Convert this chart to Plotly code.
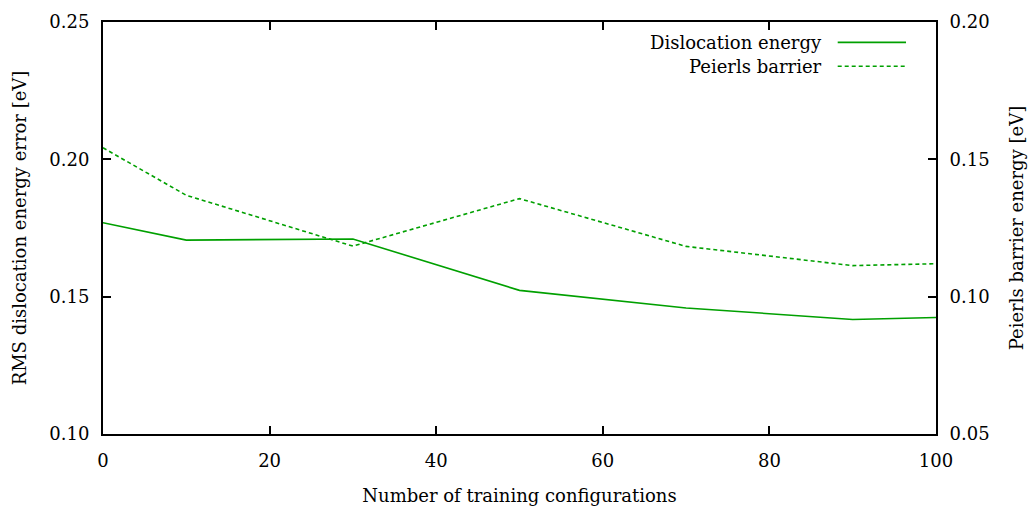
import plotly.graph_objects as go

configs = [0, 10, 30, 50, 70, 90, 100]
dislocation_energy = [0.1769, 0.1706, 0.1710, 0.1523, 0.1459, 0.1417, 0.1424]
peierls_barrier = [0.1542, 0.1369, 0.1184, 0.1357, 0.1183, 0.1113, 0.1120]

GREEN = "#00a000"
FONT = dict(family="DejaVu Serif", size=18, color="black")

fig = go.Figure()
fig.add_trace(go.Scatter(x=configs, y=dislocation_energy, mode="lines",
                         line=dict(color=GREEN, width=1.6), name="Dislocation energy",
                         showlegend=False))
fig.add_trace(go.Scatter(x=configs, y=peierls_barrier, mode="lines", yaxis="y2",
                         line=dict(color=GREEN, width=1.6, dash="4px,3px"), name="Peierls barrier",
                         showlegend=False))

# manual legend (text right of sample line like gnuplot)
legend_items = [("Dislocation energy", "solid", 0.9505), ("Peierls barrier", "4px,3px", 0.8925)]
for label, dash, yp in legend_items:
    fig.add_annotation(xref="paper", yref="paper", x=0.866, y=yp, text=label,
                       showarrow=False, xanchor="right", yanchor="middle", font=FONT)
    fig.add_shape(type="line", xref="paper", yref="paper", x0=0.882, x1=0.964, y0=yp, y1=yp,
                  line=dict(color=GREEN, width=1.6, dash=dash))

axis_common = dict(showline=True, linecolor="black", linewidth=2, ticks="inside", ticklen=8,
                   tickwidth=1.5, tickcolor="black", showgrid=False, zeroline=False,
                   tickfont=FONT, title_font=FONT, automargin=False)

fig.update_layout(
    width=1032, height=510,
    margin=dict(l=103, r=96, t=22, b=76),
    plot_bgcolor="white", paper_bgcolor="white",
    font=FONT,
    xaxis=dict(range=[0, 100], dtick=20, mirror="ticks",
               title=dict(text="Number of training configurations", standoff=20),
               ticklabelstandoff=9, **axis_common),
    yaxis=dict(range=[0.10, 0.25], dtick=0.05, tickformat=".2f",
               title=dict(text="RMS dislocation energy error [eV]", standoff=18),
               ticklabelstandoff=8, **axis_common),
    yaxis2=dict(range=[0.05, 0.20], dtick=0.05, tickformat=".2f", overlaying="y", side="right",
                title=dict(text="Peierls barrier energy [eV]", standoff=22),
                ticklabelstandoff=8, **axis_common),
)

fig.write_html("out.html")
